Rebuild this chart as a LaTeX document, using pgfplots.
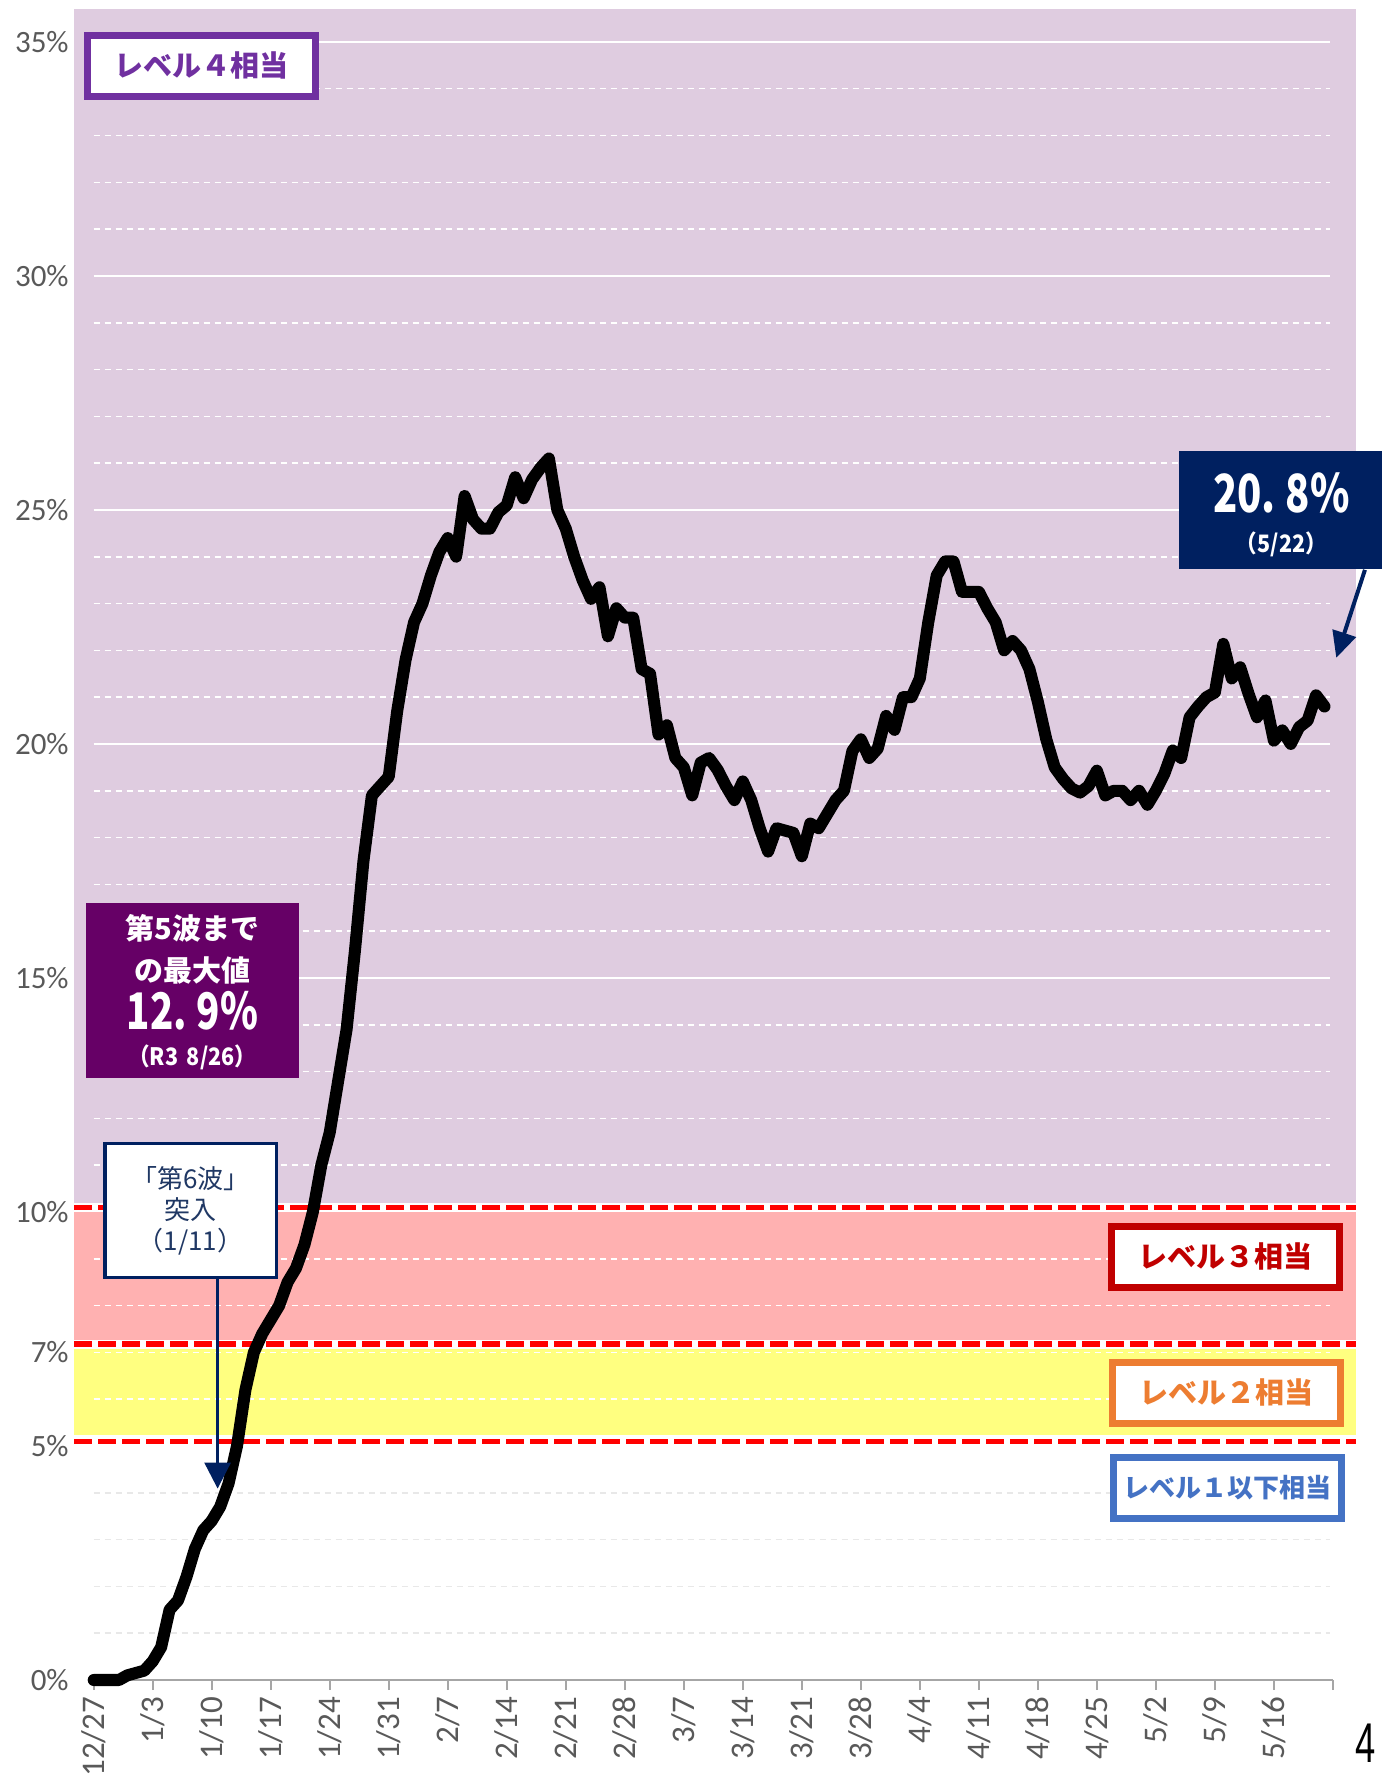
\documentclass[border=0pt]{standalone}
\usepackage{fontspec}
\setmainfont{Carlito}
\newfontfamily\jp{Noto Sans CJK JP}
\newfontfamily\lsans{Liberation Sans}
\usepackage{graphicx}
\usepackage{pgfplots}
\pgfplotsset{compat=1.18}
\usetikzlibrary{arrows.meta}
\definecolor{bgpurple}{HTML}{DFCCE0}
\definecolor{bgpink}{HTML}{FFB1B1}
\definecolor{bgyellow}{HTML}{FFFF80}
\definecolor{lv4}{HTML}{7030A0}
\definecolor{lv3}{HTML}{C00000}
\definecolor{lv2}{HTML}{ED7D31}
\definecolor{lv1}{HTML}{4472C4}
\definecolor{wave5}{HTML}{660066}
\definecolor{navy}{HTML}{002060}
\definecolor{navytext}{HTML}{203864}
\definecolor{ticklab}{HTML}{595959}
\definecolor{axisgray}{HTML}{A6A6A6}
\begin{document}
\begin{tikzpicture}
\useasboundingbox (-46.85pt,-49pt) rectangle (644.15pt,840pt);
\begin{axis}[
  at={(0,0)}, anchor=south west,
  scale only axis, width=619.6pt, height=835.4pt,
  xmin=0, xmax=147, ymin=0, ymax=35.7,
  clip=false,
  axis x line*=bottom, axis y line*=left,
  y axis line style={draw=none},
  x axis line style={axisgray, line width=1pt},
  xtick={0,7,...,147},
  xticklabels={12/27,1/3,1/10,1/17,1/24,1/31,2/7,2/14,2/21,2/28,3/7,3/14,3/21,3/28,4/4,4/11,4/18,4/25,5/2,5/9,5/16,{}},
  xtick style={axisgray, line width=1pt},
  tick align=outside,
  major tick length=5pt,
  xticklabel style={rotate=90, anchor=east, font=\fontsize{16.5}{18}\selectfont, text=ticklab},
  ytick={0,5,7,10,15,20,25,30,35},
  yticklabels={0\%,5\%,7\%,10\%,15\%,20\%,25\%,30\%,35\%},
  ytick style={draw=none},
  yticklabel style={font=\fontsize{15.5}{17}\selectfont, text=ticklab, xshift=-4pt},
]
% background bands
\fill[bgpurple] (axis cs:-2.3,10.2) rectangle (axis cs:149.7,35.7);
\fill[bgpink] (axis cs:-2.3,7.27) rectangle (axis cs:149.7,10.0);
\fill[bgyellow] (axis cs:-2.3,5.23) rectangle (axis cs:149.7,7.08);
% grid lines
\pgfplotsinvokeforeach{1,2,3,4}{
  \draw[gray!18, line width=0.75pt, dash pattern=on 3pt off 2.5pt] (axis cs:0,#1) -- (axis cs:146.6,#1);
}
\pgfplotsinvokeforeach{6,7,8,9,11,12,13,14,16,17,18,19,21,22,23,24,26,27,28,29,31,32,33,34}{
  \draw[white, line width=0.75pt, dash pattern=on 3pt off 2.5pt] (axis cs:0,#1) -- (axis cs:146.6,#1);
}
\pgfplotsinvokeforeach{15,20,25,30,35}{
  \draw[white, line width=1pt] (axis cs:0,#1) -- (axis cs:146.6,#1);
}
% threshold lines
\draw[red, line width=2.7pt, dash pattern=on 9pt off 3pt] (axis cs:-2.3,10.1) -- (axis cs:149.7,10.1);
\draw[red, line width=2.7pt, dash pattern=on 9pt off 3pt] (axis cs:-2.3,7.18) -- (axis cs:149.7,7.18);
\draw[red, line width=2.7pt, dash pattern=on 9pt off 3pt] (axis cs:-2.3,5.1) -- (axis cs:149.7,5.1);

\addplot[black, line width=6pt, line join=round, line cap=round, mark=none] coordinates {
(0,0) (1,0) (2,0) (3,0) (4,0.1) (5,0.15) (6,0.2) (7,0.4) (8,0.7) (9,1.5)
(10,1.7) (11,2.2) (12,2.8) (13,3.2) (14,3.4) (15,3.7) (16,4.2) (17,5.0) (18,6.2) (19,7.0)
(20,7.4) (21,7.7) (22,8.0) (23,8.5) (24,8.8) (25,9.3) (26,10.0) (27,11.0) (28,11.7) (29,12.8)
(30,13.9) (31,15.6) (32,17.5) (33,18.9) (34,19.1) (35,19.3) (36,20.7) (37,21.8) (38,22.6) (39,23.0)
(40,23.6) (41,24.1) (42,24.4) (43,24.0) (44,25.3) (45,24.8) (46,24.6) (47,24.6) (48,24.95) (49,25.1)
(50,25.7) (51,25.25) (52,25.65) (53,25.9) (54,26.1) (55,25.0) (56,24.6) (57,24.0) (58,23.5) (59,23.1)
(60,23.35) (61,22.3) (62,22.9) (63,22.7) (64,22.7) (65,21.6) (66,21.5) (67,20.2) (68,20.4) (69,19.7)
(70,19.5) (71,18.9) (72,19.6) (73,19.7) (74,19.45) (75,19.1) (76,18.8) (77,19.2) (78,18.8) (79,18.2)
(80,17.7) (81,18.2) (82,18.15) (83,18.1) (84,17.6) (85,18.3) (86,18.2) (87,18.5) (88,18.8) (89,19.0)
(90,19.85) (91,20.1) (92,19.7) (93,19.9) (94,20.6) (95,20.3) (96,21.0) (97,21.0) (98,21.4) (99,22.6)
(100,23.6) (101,23.9) (102,23.9) (103,23.25) (104,23.25) (105,23.25) (106,22.9) (107,22.6) (108,22.0) (109,22.2)
(110,22.0) (111,21.6) (112,20.9) (113,20.1) (114,19.5) (115,19.25) (116,19.05) (117,18.96) (118,19.1) (119,19.43)
(120,18.9) (121,19.0) (122,19.0) (123,18.8) (124,19.0) (125,18.7) (126,19.0) (127,19.36) (128,19.86) (129,19.7)
(130,20.57) (131,20.8) (132,21.0) (133,21.1) (134,22.14) (135,21.4) (136,21.64) (137,21.07) (138,20.57) (139,20.93)
(140,20.07) (141,20.29) (142,20.0) (143,20.36) (144,20.5) (145,21.04) (146,20.8)
};

% level boxes
\node[draw=lv4, line width=3.5pt, fill=white, minimum width=114pt, minimum height=30.5pt, inner sep=0pt, text=lv4, font=\jp\bfseries\fontsize{14.5}{16}\selectfont] at (axis cs:12.8,34.49) {レベル４相当};
\node[draw=lv3, line width=3.5pt, fill=white, minimum width=114pt, minimum height=30.5pt, inner sep=0pt, text=lv3, font=\jp\bfseries\fontsize{14.5}{16}\selectfont] at (axis cs:134.2,9.04) {レベル３相当};
\node[draw=lv2, line width=3.5pt, fill=white, minimum width=114pt, minimum height=30.5pt, inner sep=0pt, text=lv2, font=\jp\bfseries\fontsize{14.5}{16}\selectfont] at (axis cs:134.4,6.14) {レベル２相当};
\node[draw=lv1, line width=3.5pt, fill=white, minimum width=114pt, minimum height=30.5pt, inner sep=0pt, text=lv1, font=\jp\bfseries\fontsize{13}{15}\selectfont] at (axis cs:134.5,4.11) {レベル１以下相当};

% wave 5 max box
\node[fill=wave5, minimum width=106.8pt, minimum height=87.5pt, inner sep=0pt] at (axis cs:11.7,14.73) {};
\node[text=white, font=\jp\bfseries\fontsize{14.5}{16}\selectfont, inner sep=1pt] at (axis cs:11.7,16.05) {第5波まで};
\node[text=white, font=\jp\bfseries\fontsize{14.5}{16}\selectfont, inner sep=1pt] at (axis cs:11.7,15.15) {の最大値};
\node[text=white, font=\jp\bfseries\fontsize{24}{26}\selectfont, inner sep=0pt] at (axis cs:11.7,14.3) {\scalebox{0.8}[1.05]{12.\kern0.25em 9\%}};
\node[text=white, font=\jp\bfseries\fontsize{12}{14}\selectfont, inner sep=1pt] at (axis cs:11.7,13.3) {\scalebox{0.9}[1]{（R3\kern0.4em 8/26）}};

% wave 6 box and arrow
\draw[navy, line width=1.5pt, -{Triangle[width=13pt,length=13pt]}] (axis cs:14.7,8.57) -- (axis cs:14.7,4.09);
\node[draw=navy, line width=1.7pt, fill=white, minimum width=85.8pt, minimum height=66.8pt, inner sep=0pt, align=center, text=navytext, font=\jp\fontsize{13}{15.5}\selectfont] at (axis cs:11.5,10.03) {「第6波」\\突入\\（1/11）};

% latest value box and arrow
\node[fill=navy, minimum width=101.5pt, minimum height=58.7pt, inner sep=0pt] at (axis cs:140.8,25.0) {};
\node[text=white, font=\jp\bfseries\fontsize{25}{27}\selectfont, inner sep=0pt] at (axis cs:140.9,25.36) {\scalebox{0.8}[1.05]{20.\kern0.25em 8\%}};
\node[text=white, font=\jp\bfseries\fontsize{12}{14}\selectfont, inner sep=1pt] at (axis cs:140.9,24.27) {\scalebox{0.9}[1]{（5/22）}};
\draw[navy, line width=2pt, -{Triangle[width=12pt,length=13pt]}] (axis cs:150.8,23.72) -- (axis cs:147.4,21.84);

% page number
\node[font=\lsans\fontsize{28}{30}\selectfont] at (axis cs:150.9,-1.35) {\scalebox{0.65}[1]{4}};
\end{axis}
\end{tikzpicture}
\end{document}
